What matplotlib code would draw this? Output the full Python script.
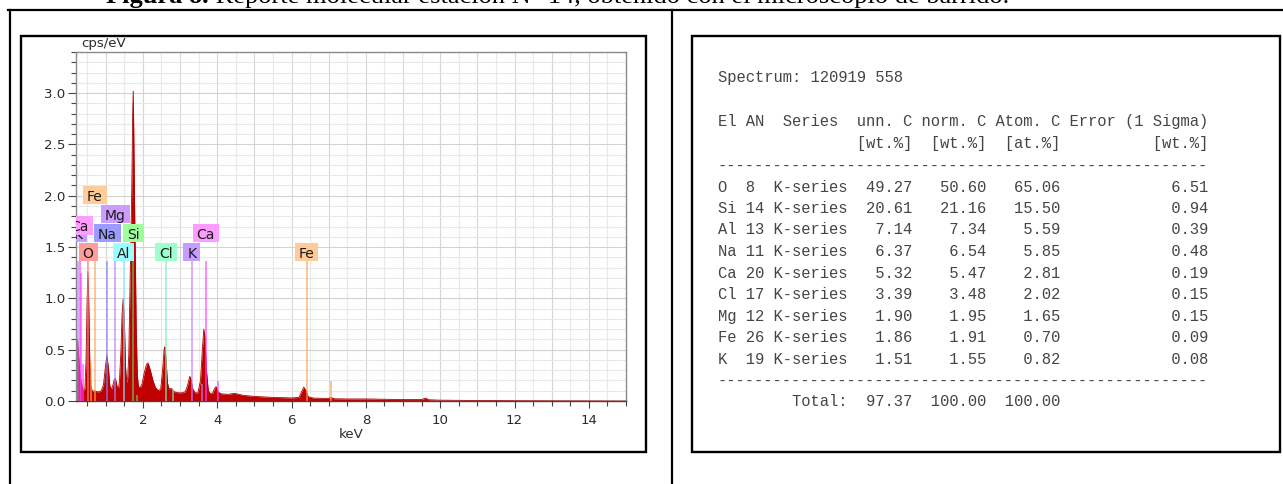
import numpy as np
import matplotlib
matplotlib.use("Agg")
import matplotlib.pyplot as plt
from matplotlib.patches import Rectangle
from matplotlib.lines import Line2D
from matplotlib.ticker import MultipleLocator, FormatStrFormatter

W, H = 1283, 484

# EDS spectrum (keV, cps/eV)
kev = [0.20, 0.24, 0.27, 0.30, 0.33, 0.36, 0.40, 0.44, 0.47, 0.50, 0.52, 0.54, 0.57, 0.60,
       0.64, 0.70, 0.76, 0.82, 0.88, 0.94, 0.99, 1.03, 1.07, 1.11, 1.15, 1.19, 1.23, 1.26,
       1.30, 1.34, 1.37, 1.41, 1.44, 1.47, 1.50, 1.53, 1.56, 1.59, 1.62, 1.65, 1.67, 1.70,
       1.725, 1.74, 1.755, 1.78, 1.80, 1.82, 1.85, 1.88, 1.93, 1.98, 2.04, 2.10, 2.14, 2.20,
       2.27, 2.34, 2.42, 2.48, 2.53, 2.57, 2.59, 2.62, 2.66, 2.70, 2.78, 2.84, 2.95, 3.05,
       3.14, 3.20, 3.26, 3.29, 3.34, 3.40, 3.48, 3.55, 3.60, 3.64, 3.67, 3.71, 3.76, 3.82,
       3.88, 3.94, 3.97, 4.02, 4.10, 4.30, 4.45, 4.55, 4.70, 5.00, 5.50, 6.00, 6.20, 6.27,
       6.33, 6.39, 6.45, 6.60, 7.00, 7.06, 7.15, 7.50, 8.00, 8.50, 9.00, 9.50, 9.60, 9.70,
       10.0, 11.0, 12.0, 13.0, 15.0]
cps = [0.58, 0.60, 0.45, 0.30, 0.20, 0.15, 0.10, 0.12, 0.40, 1.00, 1.26, 1.00, 0.40, 0.15,
       0.09, 0.10, 0.09, 0.09, 0.10, 0.16, 0.33, 0.44, 0.33, 0.15, 0.11, 0.15, 0.21, 0.22,
       0.15, 0.11, 0.20, 0.50, 0.85, 1.00, 0.80, 0.35, 0.18, 0.22, 0.45, 1.05, 1.45, 2.05,
       2.80, 3.02, 2.60, 1.80, 1.30, 0.70, 0.25, 0.14, 0.13, 0.17, 0.28, 0.36, 0.37, 0.30,
       0.20, 0.13, 0.10, 0.12, 0.30, 0.50, 0.53, 0.42, 0.18, 0.12, 0.12, 0.09, 0.08, 0.08,
       0.09, 0.15, 0.24, 0.22, 0.12, 0.08, 0.08, 0.20, 0.50, 0.70, 0.62, 0.30, 0.10, 0.07,
       0.08, 0.13, 0.14, 0.09, 0.07, 0.065, 0.075, 0.068, 0.055, 0.045, 0.035, 0.03, 0.035, 0.09,
       0.135, 0.10, 0.04, 0.028, 0.025, 0.035, 0.022, 0.02, 0.02, 0.017, 0.014, 0.014, 0.028, 0.012,
       0.008, 0.005, 0.003, 0.002, 0.0]

# element marker lines
line_kev = [0.26, 0.30, 0.34, 0.39, 0.525, 0.615, 0.705, 1.041, 1.254, 1.486, 1.740, 1.832,
            2.622, 2.815, 3.314, 3.590, 3.692, 4.013, 6.404, 7.058]
line_top = [1.36, 1.36, 1.25, 0.36, 1.36, 0.38, 1.36, 1.36, 1.36, 1.36, 1.36, 0.06,
            1.36, 0.12, 1.36, 0.17, 1.36, 0.19, 1.36, 0.19]
line_el = ['K', 'Ca', 'Ca', 'Ca', 'O', 'Fe', 'Fe', 'Na', 'Mg', 'Al', 'Si', 'Si',
           'Cl', 'Cl', 'K', 'K', 'Ca', 'Ca', 'Fe', 'Fe']

# element labels: text, energy, box bottom
lab_el = ['K', 'Ca', 'O', 'Fe', 'Na', 'Mg', 'Al', 'Si', 'Cl', 'K', 'Ca', 'Fe']
lab_kev = [0.26, 0.30, 0.525, 0.705, 1.041, 1.254, 1.486, 1.740, 2.622, 3.314, 3.692, 6.404]
lab_y = [1.545, 1.62, 1.36, 1.915, 1.545, 1.73, 1.36, 1.545, 1.36, 1.36, 1.545, 1.36]

line_col = {'O': '#ff7f7f', 'Fe': '#ffa54f', 'Na': '#8080ff', 'Mg': '#b37fff', 'Al': '#7fe9ff',
            'Si': '#5fd35f', 'Cl': '#7fefb8', 'K': '#c27fff', 'Ca': '#ff40ff'}
box_col = {'O': '#ff9c9c', 'Fe': '#ffcc99', 'Na': '#9c9cff', 'Mg': '#cc9cff', 'Al': '#9cffff',
           'Si': '#9cff9c', 'Cl': '#9cffcc', 'K': '#c79cff', 'Ca': '#ff9cff'}

# quantification table
spectrum_id = '120919 558'
tab_el = ['O', 'Si', 'Al', 'Na', 'Ca', 'Cl', 'Mg', 'Fe', 'K']
tab_an = [8, 14, 13, 11, 20, 17, 12, 26, 19]
unn_c = [49.27, 20.61, 7.14, 6.37, 5.32, 3.39, 1.90, 1.86, 1.51]
norm_c = [50.60, 21.16, 7.34, 6.54, 5.47, 3.48, 1.95, 1.91, 1.55]
atom_c = [65.06, 15.50, 5.59, 5.85, 2.81, 2.02, 1.65, 0.70, 0.82]
err_c = [6.51, 0.94, 0.39, 0.48, 0.19, 0.15, 0.15, 0.09, 0.08]
totals = [97.37, 100.00, 100.00]

title_bold = 'Figura 8.'
title_rest = ' Reporte molecular estación N° 14, obtenido con el microscopio de barrido.'


def fx(px):
    return px / W


def fy(py):
    return 1 - py / H


fig = plt.figure(figsize=(W / 100, H / 100), dpi=100)
fig.patch.set_facecolor('white')

# table borders of the page
black = dict(transform=fig.transFigure, color='black', lw=1.6)
fig.add_artist(Line2D([fx(8), 1], [fy(9.5), fy(9.5)], **black))
fig.add_artist(Line2D([fx(10), fx(10)], [fy(9.5), 0], **black))
fig.add_artist(Line2D([fx(672), fx(672)], [fy(9.5), 0], **black))
for x0, x1 in [(21, 646), (692, 1279.5)]:
    fig.add_artist(Rectangle((fx(x0), fy(452)), (x1 - x0) / W, (452 - 36) / H,
                             transform=fig.transFigure, fill=False, ec='black', lw=1.7))

# spectrum
ax = fig.add_axes([fx(76), fy(401), (626 - 76) / W, (401 - 52) / H])
ax.set_xlim(0.2, 15.0)
ax.set_ylim(0, 3.4)
for xv in np.arange(0.5, 15.0, 0.5):
    ax.axvline(xv, color='#d6d6d6' if xv % 1 == 0 else '#e9e9e9', lw=0.8, zorder=0)
for i in range(1, 34):
    ax.axhline(i / 10, color='#d2d2d2' if i % 5 == 0 else '#e8e8e8', lw=0.8, zorder=0)

ax.fill_between(kev, cps, 0, color='#c00000', lw=0, zorder=2)
ax.plot(kev, cps, color='#b00000', lw=0.6, zorder=2)
for e, top, el in zip(line_kev, line_top, line_el):
    ax.vlines(e, 0, top, colors=line_col[el], lw=1.1, alpha=0.8, zorder=3)

ax.set_xticks(range(2, 15, 2))
ax.xaxis.set_minor_locator(MultipleLocator(0.5))
ax.set_yticks(np.arange(0, 3.01, 0.5))
ax.yaxis.set_minor_locator(MultipleLocator(0.1))
ax.yaxis.set_major_formatter(FormatStrFormatter('%.1f'))
ax.tick_params(which='both', direction='out', color='#444444', width=0.8,
               labelsize=9.6, labelcolor='#2b2b2b')
ax.tick_params(axis='x', which='major', length=5, pad=4)
ax.tick_params(axis='x', which='minor', length=3.5)
ax.tick_params(axis='y', which='major', length=6, pad=1.5)
ax.tick_params(axis='y', which='minor', length=3.5)
for s in ax.spines.values():
    s.set_color('#8a8a8a')
    s.set_linewidth(1.0)
ax.spines['bottom'].set_color('#444444')
ax.set_xlabel('keV', fontsize=9.6, color='#2b2b2b', labelpad=1)
fig.text(fx(81), fy(47), 'cps/eV', fontsize=9.6, color='#2b2b2b', va='baseline')

fig.canvas.draw()
r = fig.canvas.get_renderer()
px_per_kev = ax.transData.transform((1, 0))[0] - ax.transData.transform((0, 0))[0]
box_h = 0.178
for i, (el, e, yb) in enumerate(zip(lab_el, lab_kev, lab_y)):
    t = ax.text(e, yb + 0.033, el, ha='center', va='baseline', fontsize=10,
                color='#1a1a1a', zorder=6 + 2 * i, clip_on=True)
    tw = t.get_window_extent(r).width
    w = (tw + 8) / px_per_kev
    ax.add_patch(Rectangle((e - w / 2, yb), w, box_h, fc=box_col[el], ec='none',
                           zorder=5 + 2 * i))

# quantification text
mono = dict(family='Liberation Mono', fontsize=11.2, color='#454545', va='baseline')
x_txt = fx(718)
fig.text(x_txt, fy(82), 'Spectrum: ' + spectrum_id, **mono)
fig.text(x_txt, fy(126), 'El AN  Series  unn. C norm. C Atom. C Error (1 Sigma)', **mono)
fig.text(x_txt, fy(148), '               [wt.%]  [wt.%]  [at.%]          [wt.%]', **mono)
fig.text(x_txt, fy(171), '-' * 53, **mono)
for i in range(len(tab_el)):
    row = (f'{tab_el[i]:<2} {tab_an[i]:<2} K-series  {unn_c[i]:5.2f}   '
           f'{norm_c[i]:5.2f}   {atom_c[i]:5.2f}{err_c[i]:16.2f}')
    fig.text(x_txt, fy(191.5 + 21.5 * i), row, **mono)
fig.text(x_txt, fy(386), '-' * 53, **mono)
fig.text(x_txt, fy(406.5),
         f'        Total:  {totals[0]:5.2f}  {totals[1]:6.2f}  {totals[2]:6.2f}', **mono)

# caption, mostly cut off at the top edge
serif = dict(family='Liberation Serif', va='baseline', color='black')
t1 = fig.text(fx(106), fy(3.5), title_bold, weight='bold', size=18, **serif)
t2 = fig.text(fx(106), fy(3.5), title_rest, size=18, **serif)
w1 = t1.get_window_extent(r).width
w2 = t2.get_window_extent(r).width
size = 18 * 904 / (w1 + w2)
t1.set_size(size)
t2.set_size(size)
w1 = t1.get_window_extent(r).width
t2.set_x(fx(106 + w1))

fig.savefig('out.png', dpi=100)
